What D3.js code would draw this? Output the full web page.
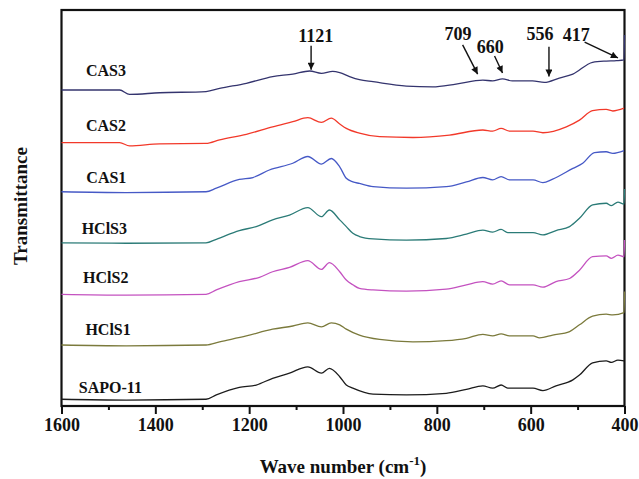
<!DOCTYPE html>
<html>
<head>
<meta charset="utf-8">
<script src="https://cdn.jsdelivr.net/npm/d3@7/dist/d3.min.js"></script>
<style>
  html, body { margin: 0; padding: 0; background: #fff; }
  svg { display: block; }
  text { font-family: "Liberation Serif", "Times New Roman", serif; font-weight: bold; fill: #111; }
</style>
</head>
<body>
<svg id="chart" width="639" height="479"></svg>
<script>
// FT-IR spectra, [wavenumber (cm-1), transmittance (a.u., stacked)]
const seriesNames = ["CAS3", "CAS2", "CAS1", "HClS3", "HClS2", "HClS1", "SAPO-11"];
const seriesColors = ["#34346e", "#f2392a", "#4659c6", "#2b7b77", "#c452c0", "#7b7a3c", "#1c1c1c"];

const cas3 = [[1600,79.8],[1476,79.8],[1455,78.7],[1391,79.1],[1292,79.4],[1263,80.2],[1206,81.5],[1150,83.2],[1107,83.8],[1071,84.6],[1046,84.0],[1022,84.5],[1007,84.2],[986,83.2],[965,82.4],[936,81.9],[865,80.8],[809,80.6],[759,81.3],[702,82.3],[681,82.1],[660,82.6],[639,82.1],[596,82.1],[571,81.7],[539,82.8],[510,83.8],[468,86.8],[439,87.1],[417,87.2],[401,87.4],[400,93.7]];
const cas2 = [[1600,66.5],[1476,66.5],[1455,65.7],[1391,66.2],[1292,66.3],[1263,67.2],[1206,68.6],[1150,70.5],[1107,71.8],[1075,72.8],[1046,71.6],[1025,72.7],[1007,71.2],[993,70.1],[965,68.9],[922,68.0],[851,67.8],[773,68.4],[702,69.7],[681,69.4],[663,70.1],[645,69.4],[595,69.4],[574,69.0],[524,70.5],[496,72.2],[468,74.6],[439,74.9],[425,74.5],[401,75.2]];
const cas1 = [[1600,54.1],[1462,53.9],[1292,54.1],[1270,55.0],[1221,57.2],[1192,57.7],[1157,59.6],[1107,61.3],[1075,63.0],[1046,61.1],[1025,62.5],[1007,60.4],[993,57.5],[979,56.6],[965,56.2],[936,55.4],[865,55.0],[780,55.4],[737,56.6],[702,57.7],[681,57.1],[663,57.9],[645,57.1],[595,57.1],[574,56.4],[553,57.3],[510,60.0],[489,61.3],[464,64.0],[439,64.2],[425,63.8],[401,64.5]];
const hcls3 = [[1600,41.2],[1462,41.1],[1292,41.2],[1270,42.1],[1221,44.3],[1185,45.3],[1150,47.0],[1114,48.2],[1075,50.1],[1046,47.8],[1029,49.5],[1007,47.0],[993,45.3],[979,43.6],[965,42.8],[936,42.2],[865,41.9],[780,42.3],[737,43.4],[702,44.4],[681,43.9],[663,44.6],[649,43.8],[595,43.8],[574,43.2],[546,44.3],[517,45.3],[496,47.4],[468,50.8],[439,51.2],[428,50.6],[414,51.5],[401,51.0],[400,54.8]];
const hcls2 = [[1600,28.2],[1462,28.0],[1292,28.2],[1270,29.3],[1221,31.4],[1178,32.5],[1150,33.9],[1114,35.0],[1075,36.7],[1046,34.5],[1029,36.2],[1007,33.9],[993,31.8],[979,30.6],[965,29.7],[936,29.3],[865,29.0],[780,29.5],[737,30.6],[702,31.4],[681,30.8],[663,31.6],[645,30.6],[595,30.6],[574,30.0],[546,31.4],[517,32.2],[496,34.3],[468,37.7],[439,37.9],[428,37.3],[414,38.1],[401,37.7],[400,41.9]];
const hcls1 = [[1600,15.4],[1462,15.2],[1292,15.4],[1263,16.2],[1206,17.7],[1150,19.4],[1107,20.2],[1075,21.0],[1046,20.0],[1025,21.0],[1007,20.5],[993,19.4],[965,17.9],[922,16.8],[851,16.2],[780,16.5],[737,17.1],[702,18.1],[681,17.7],[663,18.2],[645,17.7],[595,17.7],[581,17.2],[553,17.9],[517,18.8],[496,20.5],[468,22.7],[439,23.2],[425,23.0],[401,23.6],[400,28.9]];
const sapo11 = [[1600,1.7],[1462,1.5],[1292,1.7],[1270,2.8],[1221,4.7],[1185,5.3],[1150,7.0],[1114,8.3],[1075,9.9],[1046,8.3],[1029,9.5],[1007,7.4],[993,5.3],[979,4.5],[936,3.0],[865,2.8],[780,3.2],[737,4.2],[702,5.1],[681,4.5],[663,5.3],[649,4.5],[595,4.5],[574,3.9],[546,5.1],[510,6.6],[496,7.8],[468,10.9],[439,11.4],[428,11.0],[414,11.6],[401,11.4]];
const seriesData = [cas3, cas2, cas1, hcls3, hcls2, hcls1, sapo11];

// curve labels: [wavenumber at left edge of text, transmittance at baseline]
const labelPos = [[1548,83.3],[1548,69.4],[1547,56.3],[1557,43.4],[1554,31.1],[1549,17.9],[1563,3.3]];

// band assignments: label text, arrow tail [wn, T], arrow tip [wn, T], label anchor [wn, T]
const bands = [
  { text: "1121", tail: [1068, 91.0], tip: [1068, 84.9], at: [1058, 91.9] },
  { text: "709",  tail: [745, 91.2],  tip: [713, 83.8],  at: [755, 92.4] },
  { text: "660",  tail: [677, 88.4],  tip: [660, 84.1],  at: [686, 89.1] },
  { text: "556",  tail: [561, 90.7],  tip: [561, 83.2],  at: [580, 92.4] },
  { text: "417",  tail: [485, 91.9],  tip: [414, 87.9],  at: [503, 92.2] }
];

const xTicks = [1600, 1400, 1200, 1000, 800, 600, 400];
const xMinorTicks = [1500, 1300, 1100, 900, 700, 500];

const svg = d3.select("#chart");
const x = d3.scaleLinear().domain([1600, 400]).range([61.5, 624.5]);
const y = d3.scaleLinear().domain([0, 100]).range([406, 10]);

// plot frame
svg.append("rect")
  .attr("x", x(1600)).attr("y", y(100))
  .attr("width", x(400) - x(1600)).attr("height", y(0) - y(100))
  .attr("fill", "none").attr("stroke", "#111").attr("stroke-width", 2.2);

// bottom axis: major and minor ticks
const axMajor = svg.append("g").attr("transform", `translate(0,${y(0)})`)
  .call(d3.axisBottom(x).tickValues(xTicks).tickSize(8).tickPadding(4).tickFormat(d3.format("d")));
axMajor.select(".domain").remove();
axMajor.selectAll(".tick line").attr("stroke", "#111").attr("stroke-width", 2);
axMajor.selectAll(".tick text").attr("font-size", 18)
  .style("font-family", "'Liberation Serif','Times New Roman',serif").style("font-weight", "bold").attr("fill", "#111");

const axMinor = svg.append("g").attr("transform", `translate(0,${y(0)})`)
  .call(d3.axisBottom(x).tickValues(xMinorTicks).tickSize(4).tickFormat(""));
axMinor.select(".domain").remove();
axMinor.selectAll(".tick line").attr("stroke", "#111").attr("stroke-width", 2);

// axis titles
const xt = svg.append("text").attr("x", 343).attr("y", 473).attr("text-anchor", "middle").attr("font-size", 19);
xt.append("tspan").text("Wave number (cm");
xt.append("tspan").attr("font-size", 13).attr("dy", -8).text("-1");
xt.append("tspan").attr("dy", 8).text(")");

svg.append("text")
  .attr("transform", "translate(27,206) rotate(-90)")
  .attr("text-anchor", "middle").attr("font-size", 19)
  .text("Transmittance");

// spectra
const line = d3.line().x(d => x(d[0])).y(d => y(d[1])).curve(d3.curveMonotoneX);
svg.append("g").selectAll("path").data(seriesData).join("path")
  .attr("d", line)
  .attr("fill", "none")
  .attr("stroke", (d, i) => seriesColors[i])
  .attr("stroke-width", 1.3);

// curve labels
svg.append("g").selectAll("text").data(seriesNames).join("text")
  .attr("x", (d, i) => x(labelPos[i][0]))
  .attr("y", (d, i) => y(labelPos[i][1]))
  .attr("font-size", 16)
  .text(d => d);

// band annotations with arrows
svg.append("defs").append("marker")
  .attr("id", "arrowhead").attr("viewBox", "0 0 10 10")
  .attr("refX", 10).attr("refY", 5)
  .attr("markerWidth", 9).attr("markerHeight", 7)
  .attr("markerUnits", "userSpaceOnUse")
  .attr("orient", "auto")
  .append("path").attr("d", "M0,0 L10,5 L0,10 Z").attr("fill", "#111");

const ann = svg.append("g");
ann.selectAll("line").data(bands).join("line")
  .attr("x1", d => x(d.tail[0])).attr("y1", d => y(d.tail[1]))
  .attr("x2", d => x(d.tip[0])).attr("y2", d => y(d.tip[1]))
  .attr("stroke", "#111").attr("stroke-width", 1.4)
  .attr("marker-end", "url(#arrowhead)");
ann.selectAll("text").data(bands).join("text")
  .attr("x", d => x(d.at[0])).attr("y", d => y(d.at[1]))
  .attr("text-anchor", "middle").attr("font-size", 18)
  .text(d => d.text);
</script>
</body>
</html>
